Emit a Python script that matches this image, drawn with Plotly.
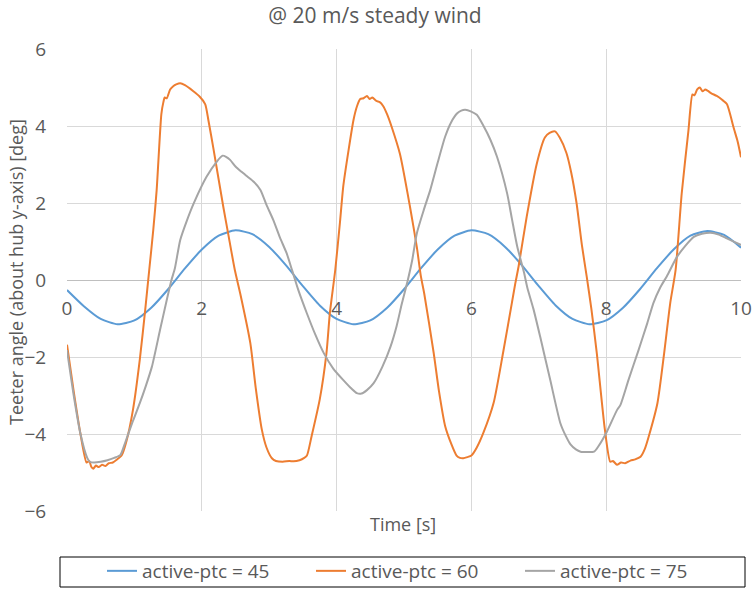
import plotly.graph_objects as go

# ---------------- data ----------------
t_45 = [0.00, 0.25, 0.50, 0.75, 1.00, 1.25, 1.50, 1.75, 2.00, 2.25, 2.50, 2.75,
        3.00, 3.25, 3.50, 3.75, 4.00, 4.25, 4.50, 4.75, 5.00, 5.25, 5.50, 5.75,
        6.00, 6.25, 6.50, 6.75, 7.00, 7.25, 7.50, 7.75, 8.00, 8.25, 8.50, 8.75,
        9.00, 9.25, 9.50, 9.75, 10.00]
y_45 = [-0.26, -0.68, -1.01, -1.15, -1.05, -0.72, -0.24, 0.30, 0.79, 1.15, 1.29, 1.19,
        0.86, 0.38, -0.16, -0.66, -1.01, -1.15, -1.05, -0.72, -0.24, 0.30, 0.79, 1.15,
        1.29, 1.19, 0.86, 0.38, -0.16, -0.66, -1.01, -1.15, -1.05, -0.72, -0.24, 0.30,
        0.79, 1.15, 1.27, 1.17, 0.84]

t_60 = [0.00, 0.10, 0.20, 0.29, 0.33, 0.36, 0.39, 0.43, 0.47, 0.52, 0.57, 0.62,
        0.68, 0.75, 0.81, 0.88, 0.98, 1.08, 1.16, 1.22, 1.28, 1.33, 1.40, 1.43,
        1.45, 1.48, 1.53, 1.58, 1.62, 1.68, 1.75, 1.87, 1.97, 2.05, 2.10, 2.17,
        2.32, 2.40, 2.49, 2.57, 2.72, 2.80, 2.89, 2.96, 3.04, 3.10, 3.20, 3.30,
        3.36, 3.45, 3.52, 3.56, 3.63, 3.75, 3.85, 3.90, 3.98, 4.05, 4.10, 4.18,
        4.25, 4.30, 4.35, 4.40, 4.45, 4.49, 4.53, 4.59, 4.64, 4.69, 4.75, 4.82,
        4.94, 5.09, 5.19, 5.25, 5.30, 5.44, 5.52, 5.61, 5.70, 5.78, 5.83, 5.88,
        5.94, 6.00, 6.08, 6.18, 6.33, 6.47, 6.60, 6.65, 6.70, 6.82, 6.97, 7.09,
        7.16, 7.24, 7.31, 7.41, 7.48, 7.56, 7.64, 7.71, 7.78, 7.86, 7.98, 8.06,
        8.10, 8.16, 8.22, 8.28, 8.36, 8.43, 8.51, 8.57, 8.63, 8.76, 8.86, 8.95,
        9.03, 9.12, 9.22, 9.28, 9.31, 9.35, 9.39, 9.43, 9.47, 9.51, 9.56, 9.64,
        9.72, 9.79, 9.84, 9.89, 9.95, 10.00]
y_60 = [-1.68, -2.90, -4.00, -4.74, -4.70, -4.85, -4.90, -4.82, -4.86, -4.80, -4.83, -4.76,
        -4.74, -4.65, -4.56, -4.20, -3.36, -2.07, -0.78, 0.26, 1.30, 2.33, 4.31, 4.62,
        4.74, 4.72, 4.95, 5.04, 5.08, 5.11, 5.06, 4.91, 4.76, 4.57, 4.13, 3.44,
        1.89, 1.12, 0.26, -0.35, -1.64, -2.80, -3.88, -4.35, -4.63, -4.70, -4.72, -4.70,
        -4.71, -4.68, -4.62, -4.56, -4.05, -3.10, -1.89, -0.86, 0.26, 1.50, 2.45, 3.40,
        4.15, 4.50, 4.70, 4.72, 4.78, 4.70, 4.74, 4.65, 4.62, 4.52, 4.30, 3.96,
        3.27, 1.89, 0.86, 0.10, -0.35, -1.89, -2.90, -3.79, -4.25, -4.56, -4.62, -4.63,
        -4.60, -4.56, -4.35, -3.96, -3.19, -1.89, -0.60, -0.10, 0.35, 1.64, 3.02, 3.70,
        3.82, 3.86, 3.70, 3.30, 2.80, 2.00, 0.90, 0.10, -0.75, -1.89, -3.88, -4.72,
        -4.70, -4.80, -4.74, -4.76, -4.69, -4.66, -4.59, -4.40, -4.07, -3.20, -1.90, -0.60,
        0.26, 2.24, 3.88, 4.82, 4.80, 4.95, 5.00, 4.90, 4.95, 4.91, 4.85, 4.78,
        4.68, 4.57, 4.30, 3.96, 3.60, 3.19]

t_75 = [0.00, 0.10, 0.20, 0.30, 0.34, 0.40, 0.50, 0.60, 0.70, 0.79, 0.86, 0.97,
        1.08, 1.17, 1.26, 1.38, 1.48, 1.55, 1.60, 1.68, 1.78, 1.88, 2.07, 2.22,
        2.31, 2.36, 2.42, 2.50, 2.59, 2.68, 2.77, 2.87, 2.96, 3.06, 3.16, 3.26,
        3.34, 3.43, 3.56, 3.68, 3.81, 3.95, 4.10, 4.22, 4.30, 4.37, 4.45, 4.55,
        4.68, 4.80, 4.89, 4.97, 5.05, 5.12, 5.19, 5.29, 5.39, 5.50, 5.61, 5.70,
        5.79, 5.85, 5.91, 5.99, 6.08, 6.18, 6.28, 6.38, 6.53, 6.60, 6.68, 6.78,
        6.83, 6.92, 7.02, 7.17, 7.32, 7.40, 7.47, 7.55, 7.62, 7.72, 7.82, 7.88,
        8.01, 8.16, 8.21, 8.33, 8.48, 8.61, 8.70, 8.80, 8.90, 9.05, 9.18, 9.30,
        9.42, 9.55, 9.67, 9.79, 9.90, 10.00]
y_75 = [-1.82, -3.00, -4.00, -4.62, -4.72, -4.74, -4.72, -4.68, -4.62, -4.55, -4.24, -3.70,
        -3.20, -2.75, -2.25, -1.30, -0.52, 0.00, 0.30, 1.04, 1.55, 1.99, 2.68, 3.07,
        3.23, 3.20, 3.12, 2.95, 2.81, 2.68, 2.55, 2.34, 1.95, 1.56, 1.10, 0.69,
        0.25, -0.25, -0.87, -1.40, -1.90, -2.30, -2.60, -2.82, -2.94, -2.95, -2.86, -2.68,
        -2.25, -1.73, -1.20, -0.60, -0.05, 0.50, 1.21, 1.80, 2.34, 3.05, 3.72, 4.10,
        4.33, 4.40, 4.42, 4.38, 4.29, 4.00, 3.65, 3.20, 2.25, 1.60, 0.87, 0.20,
        -0.20, -0.75, -1.47, -2.60, -3.72, -4.05, -4.27, -4.40, -4.46, -4.47, -4.46, -4.33,
        -3.94, -3.38, -3.25, -2.60, -1.82, -1.12, -0.60, -0.20, 0.10, 0.60, 0.90, 1.12,
        1.20, 1.23, 1.18, 1.08, 0.99, 0.91]

series_names = ["active-ptc = 45", "active-ptc = 60", "active-ptc = 75"]
series_colors = ["#5B9BD5", "#ED7D31", "#A5A5A5"]
x_ticks = [0, 2, 4, 6, 8, 10]
y_ticks = [-6, -4, -2, 0, 2, 4, 6]

title_text = "@ 20 m/s steady wind"
x_title = "Time [s]"
y_title = "Teeter angle (about hub y-axis) [deg]"

# ---------------- figure ----------------
W, H = 754, 589
ML, MR, MT, MB = 67, 13, 49, 78
PW, PH = W - ML - MR, H - MT - MB

FONT = "Open Sans"
TXT = "#595959"


def px_x(p):
    return (p - ML) / PW


def px_y(p):
    return (H - MB - p) / PH


legend_ids = ["legend", "legend2", "legend3"]
legend_left_px = [102, 311, 520]

fig = go.Figure()
for (tx, ty), name, col, lid in zip([(t_45, y_45), (t_60, y_60), (t_75, y_75)],
                                    series_names, series_colors, legend_ids):
    fig.add_trace(go.Scatter(x=tx, y=ty, mode="lines", name=name, legend=lid,
                             line=dict(color=col, width=2, shape="spline", smoothing=0.6)))

legend_cfgs = {}
for lid, lx in zip(legend_ids, legend_left_px):
    legend_cfgs[lid] = dict(orientation="h", x=px_x(lx), xanchor="left",
                            y=px_y(571), yanchor="middle", itemwidth=30,
                            font=dict(size=19, color=TXT, family=FONT),
                            bgcolor="rgba(0,0,0,0)", borderwidth=0)

fig.update_layout(
    width=W, height=H,
    margin=dict(l=ML, r=MR, t=MT, b=MB, autoexpand=False),
    paper_bgcolor="white", plot_bgcolor="white",
    font=dict(family=FONT, color=TXT, size=18),
    title=dict(text=title_text, x=375 / W, xref="container", xanchor="center",
               y=1 - 16 / H, yref="container", yanchor="middle",
               font=dict(family=FONT, size=21, color=TXT)),
    xaxis=dict(range=[0, 10], tickvals=x_ticks, showgrid=True, gridcolor="#D9D9D9",
               gridwidth=1, zeroline=False, showline=False,
               anchor="free", position=0.5,
               ticks="outside", ticklen=11, tickcolor="rgba(0,0,0,0)",
               tickfont=dict(size=19, color=TXT, family=FONT)),
    yaxis=dict(range=[-6, 6], tickvals=y_ticks, showgrid=True, gridcolor="#D9D9D9",
               gridwidth=1, zeroline=True, zerolinecolor="#BFBFBF", zerolinewidth=1,
               showline=False, ticks="outside", ticklen=16, tickcolor="rgba(0,0,0,0)",
               tickfont=dict(size=19, color=TXT, family=FONT)),
    showlegend=True,
    **legend_cfgs,
)

fig.add_annotation(text=y_title, xref="paper", yref="paper", textangle=-90,
                   x=px_x(16), y=px_y(272), xanchor="center", yanchor="middle",
                   showarrow=False, font=dict(size=18, color=TXT, family=FONT))

fig.add_annotation(text=x_title, xref="paper", yref="paper",
                   x=px_x(403), y=px_y(524), xanchor="center", yanchor="middle",
                   showarrow=False, font=dict(size=18, color=TXT, family=FONT))

fig.add_shape(type="rect", xref="paper", yref="paper",
              x0=px_x(60), x1=px_x(745), y0=px_y(587), y1=px_y(557),
              line=dict(color="black", width=1), fillcolor="rgba(0,0,0,0)", layer="above")

fig.write_html("out.html")
